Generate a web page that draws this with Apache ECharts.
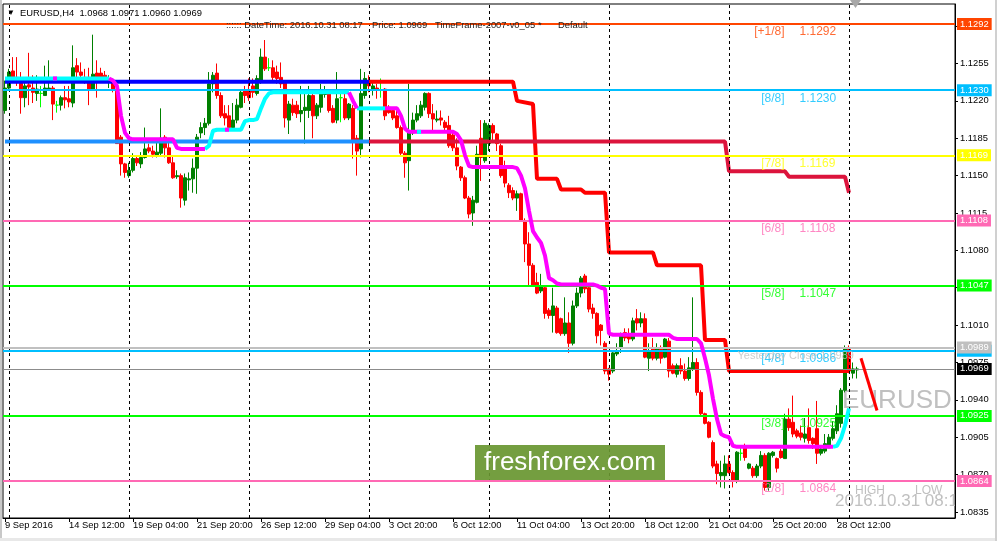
<!DOCTYPE html>
<html><head><meta charset="utf-8">
<script src="https://cdn.jsdelivr.net/npm/echarts@6/dist/echarts.min.js"></script>
<style>html,body{margin:0;padding:0;background:#fff}#c{width:997px;height:541px}</style>
</head><body><div id="c"></div>
<script>
// ---------- DATA ----------
const symbolName = 'EURUSD,H4';
const opens = [
1.1211,1.1232,1.1248,1.1242,1.1237,1.1223,1.1235,1.1232,1.1227,1.1227,
1.1225,1.1231,1.1232,1.1216,1.1216,1.1223,1.1222,1.1218,1.1253,1.1247,
1.1242,1.1242,1.1231,1.1246,1.1246,1.1244,1.1239,1.1239,1.1230,1.1186,
1.1161,1.1150,1.1155,1.1166,1.1161,1.1167,1.1176,1.1173,1.1169,1.1171,
1.1186,1.1176,1.1162,1.1149,1.1150,1.1127,1.1146,1.1147,1.1157,1.1190,
1.1195,1.1199,1.1236,1.1246,1.1225,1.1208,1.1206,1.1195,1.1202,1.1214,
1.1230,1.1230,1.1234,1.1227,1.1239,1.1261,1.1251,1.1251,1.1247,1.1242,
1.1237,1.1202,1.1216,1.1216,1.1208,1.1211,1.1211,1.1225,1.1206,1.1214,
1.1226,1.1227,1.1213,1.1202,1.1223,1.1222,1.1204,1.1213,1.1185,1.1175,
1.1225,1.1239,1.1230,1.1232,1.1230,1.1231,1.1214,1.1211,1.1206,1.1195,
1.1171,1.1164,1.1190,1.1202,1.1206,1.1214,1.1227,1.1208,1.1202,1.1204,
1.1200,1.1197,1.1188,1.1176,1.1158,1.1148,1.1129,1.1115,1.1125,1.1185,
1.1164,1.1180,1.1197,1.1189,1.1178,1.1159,1.1141,1.1136,1.1129,1.1133,
1.1108,1.1086,1.1066,1.1050,1.1042,1.1045,1.1024,1.1019,1.1026,1.1016,
1.1002,1.1012,1.0993,1.1028,1.1040,1.1056,1.1045,1.1026,1.1021,1.1010,
1.0993,1.0969,1.0967,1.0983,1.0989,1.1003,1.1000,1.0997,1.1016,1.1012,
1.1016,1.0979,1.0989,1.0979,1.0989,1.0980,1.0995,1.0972,1.0964,1.0972,
1.0967,1.0960,1.0969,1.0975,1.0947,1.0927,1.0919,1.0900,1.0880,1.0869,
1.0869,1.0880,1.0872,1.0864,1.0890,1.0895,1.0876,1.0876,1.0869,1.0878,
1.0888,1.0858,1.0888,1.0885,1.0892,1.0885,1.0922,1.0919,1.0911,1.0909,
1.0904,1.0914,1.0904,1.0913,1.0890,1.0892,1.0895,1.0904,1.0911,1.0918,
1.0949,1.0989,1.0965,1.0968];
const closes = [
1.1232,1.1247,1.1239,1.1237,1.1223,1.1234,1.1233,1.1228,1.1231,1.1227,
1.1232,1.1232,1.1217,1.1216,1.1223,1.1221,1.1219,1.1251,1.1247,1.1244,
1.1241,1.1231,1.1245,1.1241,1.1241,1.1241,1.1241,1.1231,1.1180,1.1161,
1.1153,1.1155,1.1166,1.1162,1.1167,1.1175,1.1173,1.1170,1.1172,1.1185,
1.1176,1.1162,1.1148,1.1150,1.1129,1.1148,1.1147,1.1157,1.1186,1.1195,
1.1199,1.1236,1.1244,1.1225,1.1206,1.1204,1.1195,1.1202,1.1216,1.1228,
1.1225,1.1223,1.1228,1.1241,1.1261,1.1250,1.1251,1.1242,1.1241,1.1236,
1.1204,1.1217,1.1209,1.1208,1.1211,1.1214,1.1225,1.1206,1.1216,1.1227,
1.1227,1.1211,1.1200,1.1222,1.1223,1.1204,1.1217,1.1183,1.1173,1.1227,
1.1241,1.1234,1.1234,1.1231,1.1230,1.1206,1.1209,1.1204,1.1195,1.1171,
1.1162,1.1190,1.1202,1.1208,1.1216,1.1227,1.1208,1.1203,1.1203,1.1202,
1.1195,1.1178,1.1176,1.1159,1.1148,1.1129,1.1114,1.1127,1.1170,1.1167,
1.1199,1.1197,1.1190,1.1180,1.1150,1.1143,1.1134,1.1129,1.1133,1.1108,
1.1086,1.1066,1.1047,1.1040,1.1047,1.1021,1.1019,1.1028,1.1003,1.1002,
1.1012,1.0993,1.1028,1.1040,1.1054,1.1044,1.1025,1.1021,1.1000,1.1005,
1.0967,1.0964,1.0984,1.0986,1.1000,1.0998,1.0997,1.1014,1.1012,1.1016,
1.0980,1.0986,1.0979,1.0989,1.0979,1.0997,1.0967,1.0965,1.0972,1.0967,
1.0960,1.0970,1.0975,1.0947,1.0927,1.0918,1.0905,1.0878,1.0871,1.0872,
1.0880,1.0872,1.0864,1.0891,1.0890,1.0886,1.0880,1.0869,1.0878,1.0888,
1.0858,1.0890,1.0891,1.0876,1.0886,1.0922,1.0914,1.0908,1.0906,1.0905,
1.0908,1.0902,1.0899,1.0890,1.0894,1.0899,1.0905,1.0913,1.0927,1.0949,
1.0989,1.0967,1.0969,1.0969];
const lows = [
1.1208,1.1231,1.1237,1.1234,1.1208,1.1214,1.1216,1.1218,1.1220,1.1214,
1.1225,1.1230,1.1202,1.1209,1.1211,1.1213,1.1214,1.1214,1.1241,1.1237,
1.1236,1.1216,1.1230,1.1223,1.1237,1.1237,1.1232,1.1228,1.1180,1.1150,
1.1148,1.1148,1.1153,1.1159,1.1157,1.1166,1.1171,1.1167,1.1167,1.1169,
1.1167,1.1161,1.1147,1.1147,1.1120,1.1122,1.1136,1.1134,1.1133,1.1185,
1.1188,1.1197,1.1228,1.1222,1.1204,1.1197,1.1194,1.1194,1.1199,1.1213,
1.1218,1.1220,1.1223,1.1225,1.1236,1.1248,1.1248,1.1239,1.1236,1.1232,
1.1195,1.1189,1.1206,1.1204,1.1200,1.1180,1.1204,1.1185,1.1203,1.1209,
1.1223,1.1209,1.1199,1.1199,1.1200,1.1202,1.1202,1.1166,1.1150,1.1167,
1.1222,1.1228,1.1225,1.1222,1.1223,1.1202,1.1208,1.1202,1.1194,1.1169,
1.1148,1.1136,1.1188,1.1200,1.1204,1.1211,1.1204,1.1190,1.1200,1.1197,
1.1192,1.1176,1.1173,1.1155,1.1145,1.1128,1.1110,1.1103,1.1124,1.1145,
1.1162,1.1173,1.1181,1.1173,1.1148,1.1139,1.1129,1.1127,1.1117,1.1108,
1.1069,1.1047,1.1046,1.1039,1.1040,1.1016,1.1016,1.1003,1.1002,1.1000,
1.1000,1.0984,1.0991,1.1026,1.1036,1.1040,1.1022,1.1016,1.0993,1.0991,
1.0964,1.0958,1.0965,1.0981,1.0984,1.0995,1.0993,1.0995,1.1005,1.1008,
1.0979,1.0967,1.0977,1.0977,1.0974,1.0979,1.0961,1.0964,1.0961,1.0964,
1.0958,1.0958,1.0967,1.0944,1.0925,1.0917,1.0904,1.0876,1.0861,1.0858,
1.0857,1.0871,1.0858,1.0862,1.0883,1.0883,1.0875,1.0867,1.0867,1.0876,
1.0855,1.0855,1.0886,1.0872,1.0885,1.0885,1.0911,1.0905,1.0904,1.0902,
1.0900,1.0899,1.0894,1.0880,1.0888,1.0890,1.0895,1.0902,1.0908,1.0914,
1.0947,1.0965,1.0960,1.0960];
const highs = [
1.1239,1.1250,1.1261,1.1261,1.1247,1.1241,1.1265,1.1244,1.1244,1.1234,
1.1253,1.1258,1.1234,1.1220,1.1225,1.1234,1.1234,1.1272,1.1260,1.1256,
1.1250,1.1251,1.1282,1.1258,1.1251,1.1248,1.1244,1.1241,1.1231,1.1188,
1.1162,1.1162,1.1171,1.1169,1.1172,1.1195,1.1180,1.1178,1.1185,1.1213,
1.1188,1.1181,1.1169,1.1155,1.1152,1.1152,1.1153,1.1166,1.1189,1.1200,
1.1204,1.1247,1.1247,1.1255,1.1228,1.1216,1.1216,1.1218,1.1222,1.1231,
1.1234,1.1241,1.1241,1.1244,1.1269,1.1277,1.1260,1.1258,1.1253,1.1256,
1.1239,1.1220,1.1222,1.1220,1.1234,1.1227,1.1234,1.1228,1.1218,1.1236,
1.1234,1.1231,1.1216,1.1247,1.1228,1.1227,1.1218,1.1216,1.1188,1.1250,
1.1247,1.1244,1.1237,1.1236,1.1241,1.1232,1.1216,1.1213,1.1211,1.1197,
1.1173,1.1236,1.1209,1.1216,1.1220,1.1228,1.1228,1.1217,1.1211,1.1211,
1.1202,1.1206,1.1192,1.1185,1.1159,1.1150,1.1131,1.1131,1.1178,1.1202,
1.1202,1.1199,1.1199,1.1190,1.1180,1.1164,1.1143,1.1139,1.1136,1.1134,
1.1110,1.1097,1.1068,1.1059,1.1058,1.1047,1.1026,1.1045,1.1028,1.1017,
1.1036,1.1022,1.1033,1.1045,1.1056,1.1058,1.1049,1.1030,1.1022,1.1011,
1.0995,1.0970,1.0986,1.0993,1.1003,1.1007,1.1007,1.1017,1.1025,1.1022,
1.1021,1.0993,1.0998,1.0993,1.0991,1.0998,1.0998,1.0974,1.0974,1.0979,
1.0974,1.0980,1.1036,1.0979,1.0949,1.0928,1.0920,1.0902,1.0883,1.0883,
1.0888,1.0888,1.0874,1.0892,1.0895,1.0899,1.0881,1.0878,1.0880,1.0892,
1.0890,1.0891,1.0892,1.0886,1.0894,1.0927,1.0932,1.0944,1.0913,1.0916,
1.0923,1.0932,1.0905,1.0939,1.0897,1.0908,1.0908,1.0920,1.0935,1.0951,
1.0991,1.0991,1.0975,1.0971];

// x axis tick labels (one every 16 bars) and week starts
const xTickEvery = 16;
const xTickLabels = ['9 Sep 2016','14 Sep 12:00','19 Sep 04:00','21 Sep 20:00','26 Sep 12:00','29 Sep 04:00','3 Oct 20:00','6 Oct 12:00','11 Oct 04:00','13 Oct 20:00','18 Oct 12:00','21 Oct 04:00','25 Oct 20:00','28 Oct 12:00'];
const weekStarts = [1,31,61,91,121,151,181,211];
const emptyBarsRight = 24;
const yTicks = [1.0835,1.0870,1.0905,1.0940,1.0975,1.1010,1.1045,1.1080,1.1115,1.1150,1.1185,1.1220,1.1255,1.1290];

// Murrey math levels
const mmLevels = [1.1292,1.1230,1.1169,1.1108,1.1047,1.0986,1.0925,1.0864];
const mmTags = ['[+1/8]','[8/8]','[7/8]','[6/8]','[5/8]','[4/8]','[3/8]','[2/8]'];
const yesterdayClose = 1.0989;
const bidPrice = 1.0969;

// channel (step) lines [barIndex, price]
const blueUpper = [[0,1.1238],[91,1.1238]];
const blueLower = [[0,1.1182],[91,1.1182]];
const redUpper = [[91,1.1238],[127,1.1238],[128,1.1220],[132,1.1217],[133,1.1147],[138,1.1147],[139,1.1137],[144,1.1137],[145,1.1134],[150,1.1134],[151,1.1078],[162,1.1078],[163,1.1066],[174,1.1066],[175,1.0996],[180,1.0996],[181,1.0967],[211,1.0967]];
const redLower = [[91,1.1182],[180,1.1182],[181,1.1154],[195,1.1154],[196,1.1149],[210,1.1149],[211,1.1134]];

// trend MA segments
const maUp = [
 [[0,1.1241],[26,1.1241]],
 [[50,1.1175],[51,1.1178],[52,1.1192],[53,1.1193],[59,1.1193],[60,1.1201],[61,1.1202],[62,1.1202],[63,1.1203],[64,1.1213],[65,1.1222],[66,1.1227],[67,1.1228],[86,1.1228]],
 [[88,1.1213],[95,1.1213]],
 [[207,1.0896],[208,1.0897],[209,1.0904],[210,1.0916],[211,1.0932]]
];
const maDown = [
 [[12,1.1241],[13,1.1241]],
 [[26,1.1241],[27,1.1239],[28,1.1234],[29,1.1206],[30,1.1190],[31,1.1185],[32,1.1184],[42,1.1184],[43,1.1176],[44,1.1175],[50,1.1175]],
 [[55,1.1193],[56,1.1193]],
 [[86,1.1228],[87,1.1220],[88,1.1213]],
 [[95,1.1213],[98,1.1213],[99,1.1206],[100,1.1194],[101,1.1191],[112,1.1191],[113,1.1189],[114,1.1183],[115,1.1169],[116,1.1159],[117,1.1158],[127,1.1158],[128,1.1157],[129,1.1150],[130,1.1138],[131,1.1117],[132,1.1098],[133,1.1092],[134,1.1087],[135,1.1075],[136,1.1054],[137,1.1052],[138,1.1049],[139,1.1048],[147,1.1048],[148,1.1047],[149,1.1045],[150,1.1044],[151,1.1002],[152,1.1001],[166,1.1001],[167,1.0998],[168,1.0997],[173,1.0997],[174,1.0993],[175,1.0979],[176,1.0963],[177,1.0941],[178,1.0922],[179,1.0908],[180,1.0906],[181,1.0905],[182,1.0897],[183,1.0896],[207,1.0896]]
];
const maUpBlip = [[[103,1.1191],[104,1.1191]]];
const arrowLine = [[214,1.0979],[218,1.0930]];

// ---------- STYLE ----------
const F = '"Liberation Sans", Arial, sans-serif';
const FS = 9.4;
const mmColors = ['#FF4500','#00BFFF','#FFFF00','#FF69B4','#00FF00','#00BFFF','#00FF00','#FF69B4'];
const silver = '#C0C0C0';

// ---------- BUILD ----------
const MON = ['Jan','Feb','Mar','Apr','May','Jun','Jul','Aug','Sep','Oct','Nov','Dec'];
const categories = [];
let t = Date.UTC(2016, 8, 9, 20);
for (let i = 0; i < opens.length; i++) {
  const d = new Date(t);
  categories.push(d.getUTCDate() + ' ' + MON[d.getUTCMonth()] + ' ' + String(d.getUTCHours()).padStart(2,'0') + ':00');
  t += 4 * 3600e3;
  if (new Date(t).getUTCDay() === 6) t += 2 * 86400e3;
}
for (let k = 0; k < emptyBarsRight; k++) categories.push('');
const candleData = opens.map((o, i) => [o, closes[i], lows[i], highs[i]]);

const yMax = 1.131073, yMin = 1.082937;
const isTick = (i) => i % xTickEvery === 0 && i / xTickEvery < xTickLabels.length;

function boxLabel(text, bg, fg) {
  return {show: true, position: 'end', distance: 2, formatter: text, backgroundColor: bg, color: fg,
    padding: [1, 3, 0, 3], lineHeight: 11, fontSize: FS, fontFamily: F};
}
const levelMarks = mmLevels.map((v, k) => ({yAxis: v, lineStyle: {color: mmColors[k], width: 2, type: 'solid'},
  label: boxLabel(v.toFixed(4), mmColors[k], '#fff')}));
levelMarks.push({yAxis: yesterdayClose, lineStyle: {color: silver, width: 2, type: 'solid'}, label: boxLabel(yesterdayClose.toFixed(4), silver, '#fff')});
levelMarks.push({yAxis: bidPrice, lineStyle: {color: '#8c8c8c', width: 1, type: 'solid'}, label: boxLabel(bidPrice.toFixed(4), '#000', '#fff')});

const series = [];
series.push({type: 'line', data: [], z: 1, silent: true,
  markLine: {silent: true, symbol: ['none','none'], animation: false, label: {show: false},
    lineStyle: {color: '#000', type: [3,3], width: 1}, data: weekStarts.map(i => ({xAxis: i}))}});
series.push({type: 'line', data: [], z: 2, silent: true,
  markLine: {silent: true, symbol: ['none','none'], animation: false, precision: 4, data: levelMarks}});
series.push({type: 'candlestick', data: candleData, z: 3, barWidth: 3, silent: true,
  itemStyle: {color: '#008000', color0: '#FF0000', borderColor: '#008000', borderColor0: '#FF0000', borderColorDoji: '#00FF00', borderWidth: 1}});

function lineSeries(data, color, width, z) {
  return {type: 'line', data: data, showSymbol: false, symbol: 'none', silent: true, z: z || 4,
    lineStyle: {color: color, width: width}, itemStyle: {color: color}};
}
series.push(lineSeries(blueUpper, '#0000FF', 4));
series.push(lineSeries(blueLower, '#1E90FF', 4));
series.push(lineSeries(redUpper, '#FF0000', 4));
series.push(lineSeries(redLower, '#DC143C', 4));
maUp.forEach(s => series.push(lineSeries(s, '#00FFFF', 4, 5)));
maDown.forEach(s => series.push(lineSeries(s, '#FF00FF', 4, 5)));
maUpBlip.forEach(s => series.push(lineSeries(s, '#00FFFF', 4, 5)));
series.push(lineSeries(arrowLine, '#FF0000', 3, 5));

// Murrey labels
const tagIndex = 195, valIndex = 198, ycIndex = 183;
series.push({type: 'scatter', symbolSize: 1, z: 6, silent: true, itemStyle: {color: 'rgba(0,0,0,0)'},
  data: mmLevels.map((v, k) => ({value: [tagIndex, v], label: {show: true, position: 'left', distance: 0, offset: [0, 8],
    formatter: mmTags[k], color: mmColors[k], fontSize: 12, fontFamily: F}}))});
series.push({type: 'scatter', symbolSize: 1, z: 6, silent: true, itemStyle: {color: 'rgba(0,0,0,0)'},
  data: mmLevels.map((v, k) => ({value: [valIndex, v], label: {show: true, position: 'right', distance: 2, offset: [0, 8],
    formatter: v.toFixed(4), color: mmColors[k], fontSize: 12, fontFamily: F}}))});
series.push({type: 'scatter', symbolSize: 1, z: 6, silent: true, itemStyle: {color: 'rgba(0,0,0,0)'},
  data: [{value: [ycIndex, yesterdayClose], label: {show: true, position: 'right', distance: 0, offset: [0, 8],
    formatter: 'Yesterday Close ' + yesterdayClose.toFixed(4), color: silver, fontSize: 11, fontFamily: F}}]});

const last = opens.length - 1;
const headerText = symbolName + '  ' + opens[last].toFixed(4) + ' ' + highs[last].toFixed(4) + ' ' + lows[last].toFixed(4) + ' ' + closes[last].toFixed(4);

const chart = echarts.init(document.getElementById('c'), null, {renderer: 'canvas'});
chart.setOption({
  animation: false,
  backgroundColor: '#fff',
  grid: {left: 3, top: 4, right: 42, bottom: 23, show: true, borderColor: '#000', borderWidth: 1, containLabel: false},
  xAxis: {type: 'category', data: categories, boundaryGap: true,
    axisLine: {show: true, lineStyle: {color: '#000'}},
    axisTick: {show: true, alignWithLabel: true, interval: (i) => isTick(i), length: 4, lineStyle: {color: '#000'}},
    axisLabel: {show: true, interval: (i) => isTick(i), formatter: (v, i) => xTickLabels[i / xTickEvery], align: 'left',
      margin: 3, color: '#000', fontSize: FS, fontFamily: F},
    splitLine: {show: false}},
  yAxis: {type: 'value', position: 'right', min: yMin, max: yMax, scale: true, splitLine: {show: false},
    axisLine: {show: true, lineStyle: {color: '#000'}},
    axisTick: {show: true, length: 3, customValues: yTicks, lineStyle: {color: '#000'}},
    axisLabel: {customValues: yTicks, formatter: (v) => v.toFixed(4), margin: 5, color: '#000', fontSize: FS, fontFamily: F}},
  series: series,
  graphic: [
    {type: 'rect', silent: true, shape: {x: 0, y: 0, width: 2, height: 541}, style: {fill: '#c8c8c8'}},
    {type: 'rect', silent: true, shape: {x: 0, y: 538, width: 997, height: 3}, style: {fill: '#e8e8e8'}},
    {type: 'rect', silent: true, shape: {x: 995, y: 0, width: 2, height: 541}, style: {fill: '#d0d0d0'}},
    {type: 'polygon', silent: true, z: 50, shape: {points: [[850, 0], [861, 0], [855.5, 8]]}, style: {fill: '#a8a8a8'}},
    {type: 'text', silent: true, z: 50, x: 7, y: 13, style: {text: '▼', font: '8px ' + F, fill: '#000', verticalAlign: 'middle'}},
    {type: 'text', silent: true, z: 50, x: 20, y: 13, style: {text: headerText, font: FS + 'px ' + F, fill: '#000', verticalAlign: 'middle'}},
    {type: 'text', silent: true, z: 50, x: 226, y: 25, style: {text: ':::::: DateTime: 2016.10.31 08:17', font: FS + 'px ' + F, fill: '#222', verticalAlign: 'middle'}},
    {type: 'text', silent: true, z: 50, x: 372, y: 25, style: {text: 'Price: 1.0969', font: FS + 'px ' + F, fill: '#222', verticalAlign: 'middle'}},
    {type: 'text', silent: true, z: 50, x: 435, y: 25, style: {text: 'TimeFrame-2007-v0_05', font: FS + 'px ' + F, fill: '#222', verticalAlign: 'middle'}},
    {type: 'text', silent: true, z: 50, x: 538, y: 25, style: {text: '*', font: FS + 'px ' + F, fill: '#222', verticalAlign: 'middle'}},
    {type: 'text', silent: true, z: 50, x: 558, y: 25, style: {text: 'Default', font: FS + 'px ' + F, fill: '#222', verticalAlign: 'middle'}},
    {type: 'text', silent: true, x: 842, y: 401, style: {text: 'EURUSD', font: '26px ' + F, fill: silver, verticalAlign: 'middle'}},
    {type: 'text', silent: true, x: 855, y: 491, style: {text: 'HIGH', font: '12px ' + F, fill: silver, verticalAlign: 'middle'}},
    {type: 'text', silent: true, x: 915, y: 491, style: {text: 'LOW', font: '12px ' + F, fill: silver, verticalAlign: 'middle'}},
    {type: 'text', silent: true, x: 835, y: 501, style: {text: '2016.10.31 08:17', font: '17px ' + F, fill: silver, verticalAlign: 'middle'}},
    {type: 'rect', silent: true, z: 100, shape: {x: 956, y: 491, width: 38, height: 16}, style: {fill: '#fff'}},
    {type: 'rect', silent: true, z: 100, shape: {x: 475, y: 445, width: 190, height: 35}, style: {fill: 'rgba(104,150,48,0.92)'}},
    {type: 'text', silent: true, z: 101, x: 570, y: 463, style: {text: 'freshforex.com', font: '26px ' + F, fill: '#fff', align: 'center', verticalAlign: 'middle'}}
  ]
});
</script></body></html>
